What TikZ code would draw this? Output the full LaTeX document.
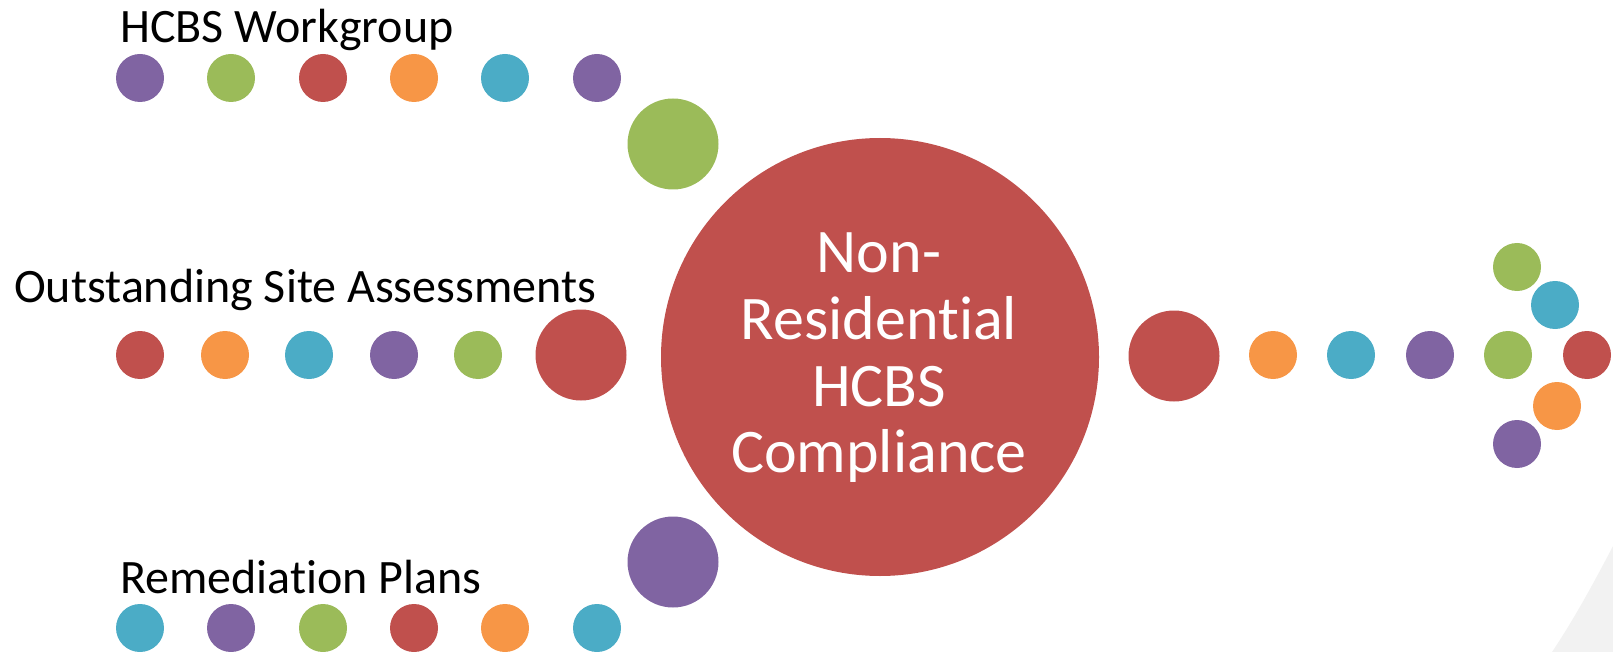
\documentclass[tikz,border=0pt]{standalone}
\usepackage{fontspec}
\setmainfont{Carlito}[RawFeature=-liga]

\definecolor{dotpurple}{HTML}{8064A2}
\definecolor{dotgreen}{HTML}{9BBB59}
\definecolor{dotred}{HTML}{C0504D}
\definecolor{dotorange}{HTML}{F79646}
\definecolor{dotcyan}{HTML}{4BACC6}

\tikzset{
    dot/.style={circle, inner sep=0pt, minimum size=48pt},
    bigdot/.style={circle, inner sep=0pt, minimum size=91pt},
    rowlabel/.style={anchor=base west, inner sep=0pt, font=\fontsize{48}{52}\selectfont}
}

\begin{document}
\begin{tikzpicture}[x=1pt, y=-1pt]
    \useasboundingbox (0,0) rectangle (1613,652);
    % Corner shade
    \fill[black!5] (1613,546) .. controls (1590,590) and (1572,622) .. (1552,652) -- (1613,652) -- cycle;

    % Centre
    \node[circle, fill=dotred, inner sep=0pt, minimum size=438pt] (hub) at (880,357) {};
    \node[align=center, text=white, inner sep=0pt, font=\fontsize{62}{66.7}\selectfont] (hubtext) at (879,358)
        {Non-\\Residential\\HCBS\\Compliance};

    % Top row
    \node[rowlabel] (work) at (120,43) {HCBS Workgroup};
    \node[dot, fill=dotpurple] (w1) at (140,78) {};
    \node[dot, fill=dotgreen] (w2) at (231,78) {};
    \node[dot, fill=dotred] (w3) at (323,78) {};
    \node[dot, fill=dotorange] (w4) at (414,78) {};
    \node[dot, fill=dotcyan] (w5) at (505,78) {};
    \node[dot, fill=dotpurple] (w6) at (597,78) {};
    \node[bigdot, fill=dotgreen] (w7) at (673,144) {};

    % Middle row
    \node[rowlabel] (site) at (14,302) {Outstanding Site Assessments};
    \node[dot, fill=dotred] (s1) at (140,355) {};
    \node[dot, fill=dotorange] (s2) at (225,355) {};
    \node[dot, fill=dotcyan] (s3) at (309,355) {};
    \node[dot, fill=dotpurple] (s4) at (394,355) {};
    \node[dot, fill=dotgreen] (s5) at (478,355) {};
    \node[bigdot, fill=dotred] (s6) at (581,355) {};

    % Bottom row
    \node[rowlabel] (plan) at (120,593) {Remediation Plans};
    \node[dot, fill=dotcyan] (r1) at (140,628) {};
    \node[dot, fill=dotpurple] (r2) at (231,628) {};
    \node[dot, fill=dotgreen] (r3) at (323,628) {};
    \node[dot, fill=dotred] (r4) at (414,628) {};
    \node[dot, fill=dotorange] (r5) at (505,628) {};
    \node[dot, fill=dotcyan] (r6) at (597,628) {};
    \node[bigdot, fill=dotpurple] (r7) at (673,562) {};

    % Outgoing arrow
    \node[bigdot, fill=dotred] (o1) at (1174,356) {};
    \node[dot, fill=dotorange] (o2) at (1273,355) {};
    \node[dot, fill=dotcyan] (o3) at (1351,355) {};
    \node[dot, fill=dotpurple] (o4) at (1430,355) {};
    \node[dot, fill=dotgreen] (o5) at (1508,355) {};
    \node[dot, fill=dotred] (o6) at (1587,355) {};
    \node[dot, fill=dotgreen] (o7) at (1517,267) {};
    \node[dot, fill=dotcyan] (o8) at (1555,305) {};
    \node[dot, fill=dotorange] (o9) at (1557,406) {};
    \node[dot, fill=dotpurple] (o10) at (1517,444) {};
\end{tikzpicture}
\end{document}
